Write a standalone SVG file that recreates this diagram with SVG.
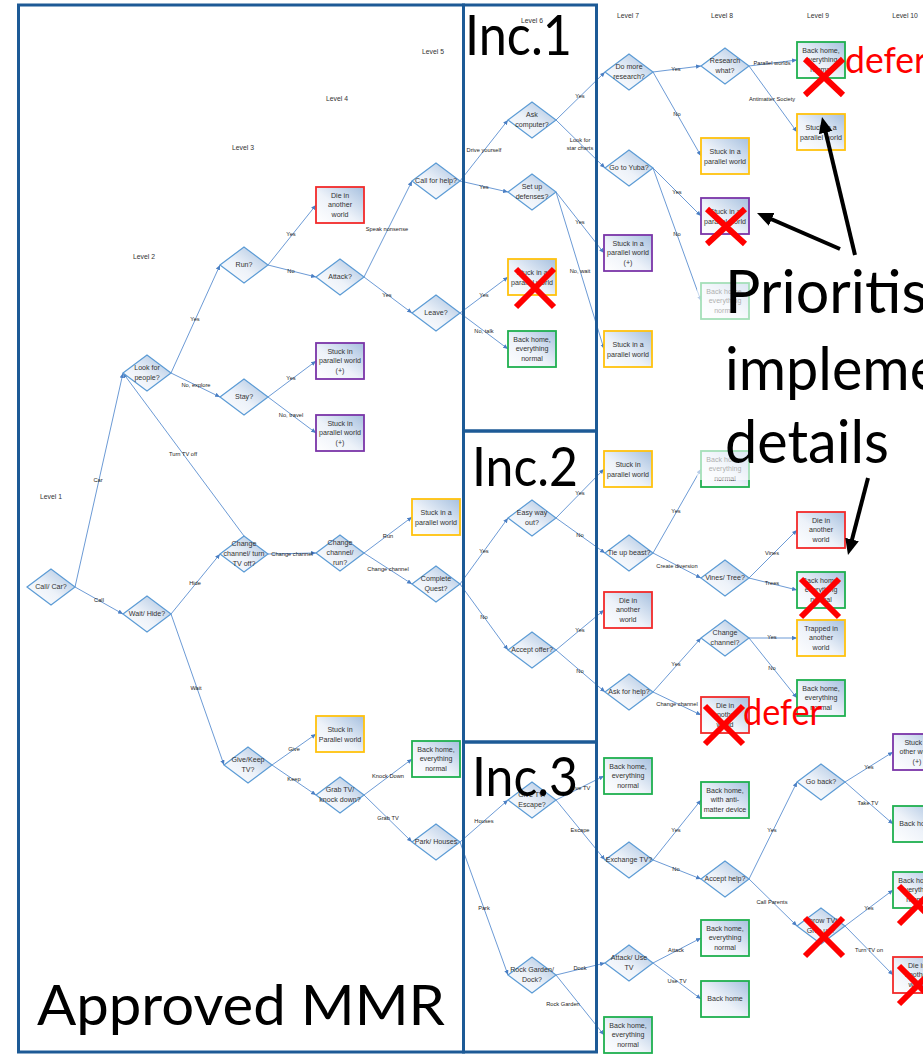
<svg xmlns="http://www.w3.org/2000/svg" xmlns:xlink="http://www.w3.org/1999/xlink" width="923" height="1054" viewBox="0 0 923 1054">
  <defs>
    <linearGradient id="shade" x1="0" y1="1" x2="1" y2="0">
      <stop offset="0" stop-color="#ffffff"/>
      <stop offset="0.45" stop-color="#edf2f9"/>
      <stop offset="1" stop-color="#a6c0df"/>
    </linearGradient>
    <polygon id="dia" points="-24,0 0,-18 24,0 0,18"/>
    <rect id="box" x="-24" y="-18" width="48" height="36"/>
    <marker id="tip" markerUnits="userSpaceOnUse" markerWidth="6" markerHeight="5" refX="5" refY="2.2" orient="auto">
      <path d="M0,0 L5,2.2 L0,4.4 z" fill="#4a7fc4"/>
    </marker>
    <marker id="bigtip" markerUnits="userSpaceOnUse" markerWidth="18" markerHeight="16" refX="10" refY="7" orient="auto">
      <path d="M0,0 L16,7 L0,14 z" fill="#000"/>
    </marker>
    <style>
      .d { fill: url(#shade); stroke: #5b9bd5; stroke-width: 1.2; }
      .b { fill: url(#shade); stroke-width: 1.8; }
      .red { stroke: #f22a2a; }
      .grn { stroke: #1fb04f; }
      .yel { stroke: #ffc20e; }
      .pur { stroke: #7a35a8; }
      .nt { font-family: "Liberation Sans", Arial, sans-serif; font-size: 7.1px; fill: #333; text-anchor: middle; }
      .lb { font-family: "Liberation Sans", Arial, sans-serif; font-size: 5.7px; fill: #222; text-anchor: middle; }
      .lv { font-family: "Liberation Sans", Arial, sans-serif; font-size: 6.8px; fill: #333; text-anchor: middle; }
      .cn path { fill: none; stroke: #5b8fd0; stroke-width: 0.9; marker-end: url(#tip); }
      .frame { fill: none; stroke: #1d5a96; stroke-width: 3; }
      .big { font-family: Lato, "Liberation Sans", sans-serif; fill: #000; }
      .defer { font-family: Lato, "Liberation Sans", sans-serif; fill: #ff0000; font-size: 36px; }
      .x { stroke: #ff0000; stroke-width: 6; fill: none; }
      .pt { stroke: #000; stroke-width: 4; fill: none; marker-end: url(#bigtip); }
    </style>
  </defs>

  <rect width="923" height="1054" fill="#fff"/>

  <!-- level headings -->
  <g id="levels">
    <text class="lv" x="51" y="499">Level 1</text>
    <text class="lv" x="144" y="259">Level 2</text>
    <text class="lv" x="243" y="150">Level 3</text>
    <text class="lv" x="337" y="101">Level 4</text>
    <text class="lv" x="433" y="54">Level 5</text>
    <text class="lv" x="628" y="18">Level 7</text>
    <text class="lv" x="722" y="18">Level 8</text>
    <text class="lv" x="818" y="18">Level 9</text>
    <text class="lv" x="905" y="18">Level 10</text>
  </g>

  <!-- connectors -->
  <g id="connectors" class="cn">
    <path d="M75 587 L123 373"/><text class="lb" x="98" y="482">Car</text>
    <path d="M75 587 L123 614"/><text class="lb" x="99" y="602">Call</text>
    <path d="M171 373 L220 265"/><text class="lb" x="195" y="321">Yes</text>
    <path d="M171 373 L220 397"/><text class="lb" x="196" y="387">No, explore</text>
    <path d="M244 536 L123 373"/><text class="lb" x="183" y="456">Turn TV off</text>
    <path d="M171 614 L220 554"/><text class="lb" x="195" y="585">Hide</text>
    <path d="M171 614 L224 765"/><text class="lb" x="196" y="690">Wait</text>
    <path d="M268 265 L316 205"/><text class="lb" x="291" y="236">Yes</text>
    <path d="M268 265 L316 277"/><text class="lb" x="291" y="273">No</text>
    <path d="M268 397 L316 361"/><text class="lb" x="291" y="380">Yes</text>
    <path d="M268 397 L316 433"/><text class="lb" x="291" y="417">No, travel</text>
    <path d="M268 554 L316 553"/><text class="lb" x="292" y="556">Change channel</text>
    <path d="M272 765 L316 734"/><text class="lb" x="294" y="751">Give</text>
    <path d="M272 765 L316 795"/><text class="lb" x="294" y="781">Keep</text>
    <path d="M364 277 L412 181"/><text class="lb" x="387" y="231">Speak nonsense</text>
    <path d="M364 277 L412 313"/><text class="lb" x="387" y="297">Yes</text>
    <path d="M364 553 L412 517"/><text class="lb" x="388" y="538">Run</text>
    <path d="M364 553 L412 584"/><text class="lb" x="388" y="571">Change channel</text>
    <path d="M364 795 L412 759"/><text class="lb" x="388" y="778">Knock Down</text>
    <path d="M364 795 L412 842"/><text class="lb" x="388" y="820">Grab TV</text>

    <path d="M460 181 L508 120"/><text class="lb" x="484" y="152">Drive yourself</text>
    <path d="M460 181 L508 192"/><text class="lb" x="484" y="189">Yes</text>
    <path d="M460 313 L508 277"/><text class="lb" x="484" y="297">Yes</text>
    <path d="M460 313 L508 349"/><text class="lb" x="484" y="333">No, talk</text>
    <path d="M556 120 L605 72"/><text class="lb" x="580" y="98">Yes</text>
    <path d="M556 120 L605 168"/><text class="lb" x="580" y="142">Look for</text><text class="lb" x="580" y="150">star charts</text>
    <path d="M556 192 L604 253"/><text class="lb" x="580" y="224">Yes</text>
    <path d="M556 192 L604 349"/><text class="lb" x="580" y="273">No, wait</text>
    <path d="M653 72 L701 66"/><text class="lb" x="676" y="71">Yes</text>
    <path d="M653 72 L701 156"/><text class="lb" x="677" y="116">No</text>
    <path d="M653 168 L701 216"/><text class="lb" x="677" y="194">Yes</text>
    <path d="M653 168 L701 301"/><text class="lb" x="677" y="236">No</text>
    <path d="M749 66 L797 60"/><text class="lb" x="772" y="65">Parallel worlds</text>
    <path d="M749 66 L797 132"/><text class="lb" x="772" y="101">Antimatter Society</text>

    <path d="M460 584 L508 518"/><text class="lb" x="484" y="553">Yes</text>
    <path d="M460 584 L508 650"/><text class="lb" x="484" y="619">No</text>
    <path d="M556 518 L604 469"/><text class="lb" x="580" y="495">Yes</text>
    <path d="M556 518 L605 553"/><text class="lb" x="580" y="537">No</text>
    <path d="M556 650 L604 610"/><text class="lb" x="580" y="632">Yes</text>
    <path d="M556 650 L605 692"/><text class="lb" x="580" y="673">No</text>
    <path d="M653 553 L701 469"/><text class="lb" x="676" y="513">Yes</text>
    <path d="M653 553 L701 578"/><text class="lb" x="677" y="568">Create diversion</text>
    <path d="M653 692 L701 638"/><text class="lb" x="676" y="666">Yes</text>
    <path d="M653 692 L701 715"/><text class="lb" x="677" y="706">Change channel</text>
    <path d="M749 578 L797 530"/><text class="lb" x="772" y="555">Vines</text>
    <path d="M749 578 L797 590"/><text class="lb" x="772" y="585">Trees</text>
    <path d="M749 638 L797 638"/><text class="lb" x="772" y="639">Yes</text>
    <path d="M749 638 L797 698"/><text class="lb" x="772" y="670">No</text>

    <path d="M460 842 L508 800"/><text class="lb" x="484" y="823">Houses</text>
    <path d="M460 842 L508 975"/><text class="lb" x="484" y="910">Park</text>
    <path d="M556 800 L604 776"/><text class="lb" x="580" y="790">Give TV</text>
    <path d="M556 800 L605 860"/><text class="lb" x="580" y="832">Escape</text>
    <path d="M556 975 L605 963"/><text class="lb" x="580" y="970">Dock</text>
    <path d="M556 975 L604 1035"/><text class="lb" x="563" y="1006" text-anchor="start">Rock Garden</text>
    <path d="M653 860 L701 800"/><text class="lb" x="676" y="832">Yes</text>
    <path d="M653 860 L701 879"/><text class="lb" x="676" y="871">No</text>
    <path d="M653 963 L701 938"/><text class="lb" x="676" y="952">Attack</text>
    <path d="M653 963 L701 999"/><text class="lb" x="677" y="983">Use TV</text>
    <path d="M749 879 L797 782"/><text class="lb" x="772" y="832">Yes</text>
    <path d="M749 879 L797 926"/><text class="lb" x="772" y="904">Call Parents</text>
    <path d="M845 782 L893 752"/><text class="lb" x="869" y="769">Yes</text>
    <path d="M845 782 L893 824"/><text class="lb" x="868" y="805">Take TV</text>
    <path d="M845 926 L893 890"/><text class="lb" x="869" y="910">Yes</text>
    <path d="M845 926 L893 975"/><text class="lb" x="869" y="952">Turn TV on</text>
  </g>

  <!-- decision and outcome nodes -->
  <g id="n-callcar" transform="translate(51,587)"><use href="#dia" class="d"/><text class="nt" y="2.4">Call/ Car?</text></g>
  <g id="n-look" transform="translate(147,373)"><use href="#dia" class="d"/><text class="nt"><tspan x="0" y="-3">Look for</tspan><tspan x="0" y="7">people?</tspan></text></g>
  <g id="n-wait" transform="translate(147,614)"><use href="#dia" class="d"/><text class="nt" y="2.4">Wait/ Hide?</text></g>
  <g id="n-run" transform="translate(244,265)"><use href="#dia" class="d"/><text class="nt" y="2.4">Run?</text></g>
  <g id="n-stay" transform="translate(244,397)"><use href="#dia" class="d"/><text class="nt" y="2.4">Stay?</text></g>
  <g id="n-chg1" transform="translate(244,554)"><use href="#dia" class="d"/><text class="nt"><tspan x="0" y="-8">Change</tspan><tspan x="0" y="1.8">channel/ turn</tspan><tspan x="0" y="11.5">TV off?</tspan></text></g>
  <g id="n-give" transform="translate(248,765)"><use href="#dia" class="d"/><text class="nt"><tspan x="0" y="-3">Give/Keep</tspan><tspan x="0" y="7">TV?</tspan></text></g>
  <g id="n-attack" transform="translate(340,277)"><use href="#dia" class="d"/><text class="nt" y="2.4">Attack?</text></g>
  <g id="n-callhelp" transform="translate(436,181)"><use href="#dia" class="d"/><text class="nt" y="2.4">Call for help?</text></g>
  <g id="n-leave" transform="translate(436,313)"><use href="#dia" class="d"/><text class="nt" y="2.4">Leave?</text></g>
  <g id="n-chg2" transform="translate(340,553)"><use href="#dia" class="d"/><text class="nt"><tspan x="0" y="-8">Change</tspan><tspan x="0" y="1.8">channel/</tspan><tspan x="0" y="11.5">run?</tspan></text></g>
  <g id="n-quest" transform="translate(436,584)"><use href="#dia" class="d"/><text class="nt"><tspan x="0" y="-3">Complete</tspan><tspan x="0" y="7">Quest?</tspan></text></g>
  <g id="n-grab" transform="translate(340,795)"><use href="#dia" class="d"/><text class="nt"><tspan x="0" y="-3">Grab TV/</tspan><tspan x="0" y="7">knock down?</tspan></text></g>
  <g id="n-park" transform="translate(436,842)"><use href="#dia" class="d"/><text class="nt" y="2.4">Park/ Houses</text></g>

  <g id="n-die1" transform="translate(340,205)"><use href="#box" class="b red"/><text class="nt"><tspan x="0" y="-7.5">Die in</tspan><tspan x="0" y="2.2">another</tspan><tspan x="0" y="11.9">world</tspan></text></g>
  <g id="n-stk1" transform="translate(340,361)"><use href="#box" class="b pur"/><text class="nt"><tspan x="0" y="-7.5">Stuck in</tspan><tspan x="0" y="2.2">parallel world</tspan><tspan x="0" y="11.9">(+)</tspan></text></g>
  <g id="n-stk2" transform="translate(340,433)"><use href="#box" class="b pur"/><text class="nt"><tspan x="0" y="-7.5">Stuck in</tspan><tspan x="0" y="2.2">parallel world</tspan><tspan x="0" y="11.9">(+)</tspan></text></g>
  <g id="n-stk3" transform="translate(436,517)"><use href="#box" class="b yel"/><text class="nt"><tspan x="0" y="-2.5">Stuck in a</tspan><tspan x="0" y="7.5">parallel world</tspan></text></g>
  <g id="n-stk4" transform="translate(340,734)"><use href="#box" class="b yel"/><text class="nt"><tspan x="0" y="-2.5">Stuck in</tspan><tspan x="0" y="7.5">Parallel world</tspan></text></g>
  <g id="n-home1" transform="translate(436,759)"><use href="#box" class="b grn"/><text class="nt"><tspan x="0" y="-7.5">Back home,</tspan><tspan x="0" y="2.2">everything</tspan><tspan x="0" y="11.9">normal</tspan></text></g>

  <g id="n-ask" transform="translate(532,120)"><use href="#dia" class="d"/><text class="nt"><tspan x="0" y="-3">Ask</tspan><tspan x="0" y="7">computer?</tspan></text></g>
  <g id="n-defend" transform="translate(532,192)"><use href="#dia" class="d"/><text class="nt"><tspan x="0" y="-3">Set up</tspan><tspan x="0" y="7">defenses?</tspan></text></g>
  <g id="n-stk5" transform="translate(532,277)"><use href="#box" class="b yel"/><text class="nt"><tspan x="0" y="-2.5">Stuck in a</tspan><tspan x="0" y="7.5">parallel world</tspan></text></g>
  <g id="n-home2" transform="translate(532,349)"><use href="#box" class="b grn"/><text class="nt"><tspan x="0" y="-7.5">Back home,</tspan><tspan x="0" y="2.2">everything</tspan><tspan x="0" y="11.9">normal</tspan></text></g>
  <g id="n-more" transform="translate(629,72)"><use href="#dia" class="d"/><text class="nt"><tspan x="0" y="-3">Do more</tspan><tspan x="0" y="7">research?</tspan></text></g>
  <g id="n-yuba" transform="translate(629,168)"><use href="#dia" class="d"/><text class="nt" y="2.4">Go to Yuba?</text></g>
  <g id="n-stk6" transform="translate(628,253)"><use href="#box" class="b pur"/><text class="nt"><tspan x="0" y="-7.5">Stuck in a</tspan><tspan x="0" y="2.2">parallel world</tspan><tspan x="0" y="11.9">(+)</tspan></text></g>
  <g id="n-stk7" transform="translate(628,349)"><use href="#box" class="b yel"/><text class="nt"><tspan x="0" y="-2.5">Stuck in a</tspan><tspan x="0" y="7.5">parallel world</tspan></text></g>
  <g id="n-what" transform="translate(725,66)"><use href="#dia" class="d"/><text class="nt"><tspan x="0" y="-3">Research</tspan><tspan x="0" y="7">what?</tspan></text></g>
  <g id="n-stk8" transform="translate(725,156)"><use href="#box" class="b yel"/><text class="nt"><tspan x="0" y="-2.5">Stuck in a</tspan><tspan x="0" y="7.5">parallel world</tspan></text></g>
  <g id="n-stk9" transform="translate(725,216)"><use href="#box" class="b pur"/><text class="nt"><tspan x="0" y="-2.5">Stuck in a</tspan><tspan x="0" y="7.5">parallel world</tspan></text></g>
  <g id="n-home3" transform="translate(725,301)"><use href="#box" class="b grn"/><text class="nt"><tspan x="0" y="-7.5">Back home,</tspan><tspan x="0" y="2.2">everything</tspan><tspan x="0" y="11.9">normal</tspan></text></g>
  <g id="n-home4" transform="translate(821,60)"><use href="#box" class="b grn"/><text class="nt"><tspan x="0" y="-7.5">Back home,</tspan><tspan x="0" y="2.2">everything</tspan><tspan x="0" y="11.9">normal</tspan></text></g>
  <g id="n-stk10" transform="translate(821,132)"><use href="#box" class="b yel"/><text class="nt"><tspan x="0" y="-2.5">Stuck in a</tspan><tspan x="0" y="7.5">parallel world</tspan></text></g>

  <g id="n-easy" transform="translate(532,518)"><use href="#dia" class="d"/><text class="nt"><tspan x="0" y="-3">Easy way</tspan><tspan x="0" y="7">out?</tspan></text></g>
  <g id="n-offer" transform="translate(532,650)"><use href="#dia" class="d"/><text class="nt" y="2.4">Accept offer?</text></g>
  <g id="n-stk11" transform="translate(628,469)"><use href="#box" class="b yel"/><text class="nt"><tspan x="0" y="-2.5">Stuck in</tspan><tspan x="0" y="7.5">parallel world</tspan></text></g>
  <g id="n-beast" transform="translate(629,553)"><use href="#dia" class="d"/><text class="nt" y="2.4">Tie up beast?</text></g>
  <g id="n-die2" transform="translate(628,610)"><use href="#box" class="b red"/><text class="nt"><tspan x="0" y="-7.5">Die in</tspan><tspan x="0" y="2.2">another</tspan><tspan x="0" y="11.9">world</tspan></text></g>
  <g id="n-askhelp" transform="translate(629,692)"><use href="#dia" class="d"/><text class="nt" y="2.4">Ask for help?</text></g>
  <g id="n-home5" transform="translate(725,469)"><use href="#box" class="b grn"/><text class="nt"><tspan x="0" y="-7.5">Back home,</tspan><tspan x="0" y="2.2">everything</tspan><tspan x="0" y="11.9">normal</tspan></text></g>
  <g id="n-vines" transform="translate(725,578)"><use href="#dia" class="d"/><text class="nt" y="2.4">Vines/ Tree?</text></g>
  <g id="n-chg3" transform="translate(725,638)"><use href="#dia" class="d"/><text class="nt"><tspan x="0" y="-3">Change</tspan><tspan x="0" y="7">channel?</tspan></text></g>
  <g id="n-die3" transform="translate(725,715)"><use href="#box" class="b red"/><text class="nt"><tspan x="0" y="-7.5">Die in</tspan><tspan x="0" y="2.2">another</tspan><tspan x="0" y="11.9">world</tspan></text></g>
  <g id="n-die4" transform="translate(821,530)"><use href="#box" class="b red"/><text class="nt"><tspan x="0" y="-7.5">Die in</tspan><tspan x="0" y="2.2">another</tspan><tspan x="0" y="11.9">world</tspan></text></g>
  <g id="n-home6" transform="translate(821,590)"><use href="#box" class="b grn"/><text class="nt"><tspan x="0" y="-7.5">Back home,</tspan><tspan x="0" y="2.2">everything</tspan><tspan x="0" y="11.9">normal</tspan></text></g>
  <g id="n-trap" transform="translate(821,638)"><use href="#box" class="b yel"/><text class="nt"><tspan x="0" y="-7.5">Trapped in</tspan><tspan x="0" y="2.2">another</tspan><tspan x="0" y="11.9">world</tspan></text></g>
  <g id="n-home7" transform="translate(821,698)"><use href="#box" class="b grn"/><text class="nt"><tspan x="0" y="-7.5">Back home,</tspan><tspan x="0" y="2.2">everything</tspan><tspan x="0" y="11.9">normal</tspan></text></g>

  <g id="n-givetv" transform="translate(532,800)"><use href="#dia" class="d"/><text class="nt"><tspan x="0" y="-3">Give TV/</tspan><tspan x="0" y="7">Escape?</tspan></text></g>
  <g id="n-rock" transform="translate(532,975)"><use href="#dia" class="d"/><text class="nt"><tspan x="0" y="-3">Rock Garden/</tspan><tspan x="0" y="7">Dock?</tspan></text></g>
  <g id="n-home8" transform="translate(628,776)"><use href="#box" class="b grn"/><text class="nt"><tspan x="0" y="-7.5">Back home,</tspan><tspan x="0" y="2.2">everything</tspan><tspan x="0" y="11.9">normal</tspan></text></g>
  <g id="n-exch" transform="translate(629,860)"><use href="#dia" class="d"/><text class="nt" y="2.4">Exchange TV?</text></g>
  <g id="n-attuse" transform="translate(629,963)"><use href="#dia" class="d"/><text class="nt"><tspan x="0" y="-3">Attack/ Use</tspan><tspan x="0" y="7">TV</tspan></text></g>
  <g id="n-home9" transform="translate(628,1035)"><use href="#box" class="b grn"/><text class="nt"><tspan x="0" y="-7.5">Back home,</tspan><tspan x="0" y="2.2">everything</tspan><tspan x="0" y="11.9">normal</tspan></text></g>
  <g id="n-anti" transform="translate(725,800)"><use href="#box" class="b grn"/><text class="nt"><tspan x="0" y="-7.5">Back home,</tspan><tspan x="0" y="2.2">with anti-</tspan><tspan x="0" y="11.9">matter device</tspan></text></g>
  <g id="n-accept" transform="translate(725,879)"><use href="#dia" class="d"/><text class="nt" y="2.4">Accept help?</text></g>
  <g id="n-home10" transform="translate(725,938)"><use href="#box" class="b grn"/><text class="nt"><tspan x="0" y="-7.5">Back home,</tspan><tspan x="0" y="2.2">everything</tspan><tspan x="0" y="11.9">normal</tspan></text></g>
  <g id="n-home11" transform="translate(725,999)"><use href="#box" class="b grn"/><text class="nt" y="2.4">Back home</text></g>
  <g id="n-goback" transform="translate(821,782)"><use href="#dia" class="d"/><text class="nt" y="2.4">Go back?</text></g>
  <g id="n-throw" transform="translate(821,926)"><use href="#dia" class="d"/><text class="nt"><tspan x="0" y="-3">Throw TV/</tspan><tspan x="0" y="7">Give up?</tspan></text></g>
  <g id="n-stk12" transform="translate(917,752)"><use href="#box" class="b pur"/><text class="nt"><tspan x="0" y="-7.5">Stuck in</tspan><tspan x="0" y="2.2">other world</tspan><tspan x="0" y="11.9">(+)</tspan></text></g>
  <g id="n-home12" transform="translate(917,824)"><use href="#box" class="b grn"/><text class="nt" y="2.4">Back home</text></g>
  <g id="n-home13" transform="translate(917,890)"><use href="#box" class="b grn"/><text class="nt"><tspan x="0" y="-7.5">Back home,</tspan><tspan x="0" y="2.2">everything</tspan><tspan x="0" y="11.9">normal</tspan></text></g>
  <g id="n-die5" transform="translate(917,975)"><use href="#box" class="b red"/><text class="nt"><tspan x="0" y="-7.5">Die in</tspan><tspan x="0" y="2.2">another</tspan><tspan x="0" y="11.9">world</tspan></text></g>

  <!-- translucent backing of the callout text -->
  <rect x="697" y="262" width="226" height="218" fill="#fff" opacity="0.6"/>

  <!-- release frames -->
  <g id="frames">
    <rect class="frame" x="18.5" y="5" width="445" height="1047"/>
    <rect class="frame" x="463.5" y="5" width="133" height="426"/>
    <rect class="frame" x="463.5" y="431" width="133" height="311"/>
    <rect class="frame" x="463.5" y="742" width="133" height="310"/>
  </g>

  <g id="titles">
    <text class="big" x="465" y="55" font-size="56" textLength="107" lengthAdjust="spacingAndGlyphs">Inc.1</text>
    <text class="lv" x="532" y="23">Level 6</text>
    <text class="big" x="472" y="486" font-size="55" textLength="106" lengthAdjust="spacingAndGlyphs">Inc.2</text>
    <text class="big" x="472" y="796" font-size="55" textLength="106" lengthAdjust="spacingAndGlyphs">Inc.3</text>
    <text class="big" x="37" y="1025" font-size="56" textLength="408" lengthAdjust="spacingAndGlyphs">Approved MMR</text>
    <text class="big" x="725" y="313" font-size="60" textLength="202" lengthAdjust="spacingAndGlyphs">Prioritis</text>
    <text class="big" x="725" y="390" font-size="60" textLength="215" lengthAdjust="spacingAndGlyphs">impleme</text>
    <text class="big" x="725" y="463" font-size="60" textLength="164" lengthAdjust="spacingAndGlyphs">details</text>
    <text class="defer" x="845" y="73" textLength="82" lengthAdjust="spacingAndGlyphs">defer</text>
    <text class="defer" x="743" y="725" textLength="79" lengthAdjust="spacingAndGlyphs">defer</text>
  </g>

  <!-- rejection crosses -->
  <g id="crosses" class="x">
    <path d="M516 269 L554 307 M554 269 L516 307"/>
    <path d="M805 59 L843 95 M843 59 L805 95"/>
    <path d="M707 209 L745 244 M745 209 L707 244"/>
    <path d="M801 579 L839 617 M839 579 L801 617"/>
    <path d="M705 706 L743 744 M743 706 L705 744"/>
    <path d="M805 918 L843 956 M843 918 L805 956"/>
    <path d="M899 886 L937 924 M937 886 L899 924"/>
    <path d="M899 966 L937 1004 M937 966 L899 1004"/>
  </g>

  <!-- callout pointers -->
  <g id="pointers">
    <path class="pt" d="M855 255 L823.4 122.8"/>
    <path class="pt" d="M840 249 L762.5 215.4"/>
    <path class="pt" d="M868 478 L849.5 549.2"/>
  </g>
</svg>
